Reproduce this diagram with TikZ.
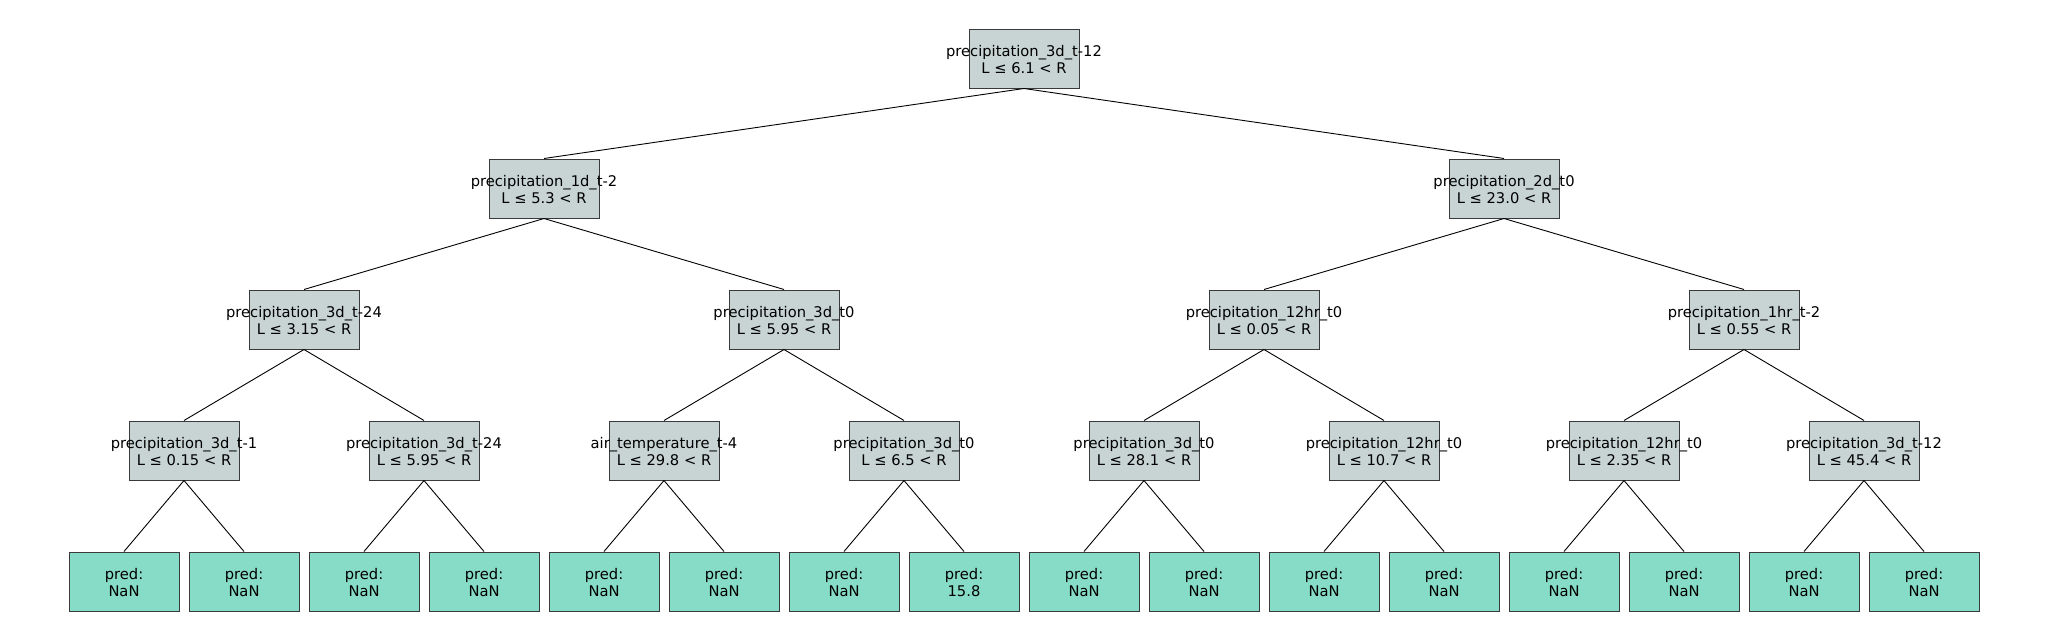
\documentclass[tikz,border=0pt]{standalone}
\usepackage{fontspec}
\setmainfont{DejaVu Sans}
\definecolor{splitfill}{HTML}{C8D4D4}
\definecolor{leaffill}{HTML}{86DCC6}
\definecolor{boxline}{HTML}{3A3A3A}
\begin{document}
\begin{tikzpicture}[x=1pt,y=1pt,
  base/.style={draw=boxline,line width=1pt,minimum width=110pt,minimum height=59pt,inner sep=0pt,
    label={[inner sep=0pt,yshift=-1pt,align=center,font=\fontsize{14.7pt}{16.7pt}\selectfont]center:#1}},
  split/.style={base={#1},fill=splitfill},
  leaf/.style={base={#1},fill=leaffill},
  edge/.style={draw=black,line width=0.9pt}]
\useasboundingbox (0,0) rectangle (2048,-640);
% root
\node[split={precipitation\_3d\_t-12\\L ≤ 6.1 < R}] (r) at (1024,-58.5) {};
% level 1
\node[split={precipitation\_1d\_t-2\\L ≤ 5.3 < R}] (a) at (544,-188.5) {};
\node[split={precipitation\_2d\_t0\\L ≤ 23.0 < R}] (b) at (1504,-188.5) {};
% level 2
\node[split={precipitation\_3d\_t-24\\L ≤ 3.15 < R}] (aa) at (304,-319.5) {};
\node[split={precipitation\_3d\_t0\\L ≤ 5.95 < R}] (ab) at (784,-319.5) {};
\node[split={precipitation\_12hr\_t0\\L ≤ 0.05 < R}] (ba) at (1264,-319.5) {};
\node[split={precipitation\_1hr\_t-2\\L ≤ 0.55 < R}] (bb) at (1744,-319.5) {};
% level 3
\node[split={precipitation\_3d\_t-1\\L ≤ 0.15 < R}] (c1) at (184,-450.5) {};
\node[split={precipitation\_3d\_t-24\\L ≤ 5.95 < R}] (c2) at (424,-450.5) {};
\node[split={air\_temperature\_t-4\\L ≤ 29.8 < R}] (c3) at (664,-450.5) {};
\node[split={precipitation\_3d\_t0\\L ≤ 6.5 < R}] (c4) at (904,-450.5) {};
\node[split={precipitation\_3d\_t0\\L ≤ 28.1 < R}] (c5) at (1144,-450.5) {};
\node[split={precipitation\_12hr\_t0\\L ≤ 10.7 < R}] (c6) at (1384,-450.5) {};
\node[split={precipitation\_12hr\_t0\\L ≤ 2.35 < R}] (c7) at (1624,-450.5) {};
\node[split={precipitation\_3d\_t-12\\L ≤ 45.4 < R}] (c8) at (1864,-450.5) {};
% leaves
\foreach \i/\v in {1/NaN,2/NaN,3/NaN,4/NaN,5/NaN,6/NaN,7/NaN,8/15.8,9/NaN,10/NaN,11/NaN,12/NaN,13/NaN,14/NaN,15/NaN,16/NaN}{
  \node[leaf={pred:\\\v}] (l\i) at ({124+120*(\i-1)},-581.5) {};
}
% edges
\draw[edge] (r.south) -- (a.north);
\draw[edge] (r.south) -- (b.north);
\draw[edge] (a.south) -- (aa.north);
\draw[edge] (a.south) -- (ab.north);
\draw[edge] (b.south) -- (ba.north);
\draw[edge] (b.south) -- (bb.north);
\draw[edge] (aa.south) -- (c1.north);
\draw[edge] (aa.south) -- (c2.north);
\draw[edge] (ab.south) -- (c3.north);
\draw[edge] (ab.south) -- (c4.north);
\draw[edge] (ba.south) -- (c5.north);
\draw[edge] (ba.south) -- (c6.north);
\draw[edge] (bb.south) -- (c7.north);
\draw[edge] (bb.south) -- (c8.north);
\foreach \p/\x/\y in {1/1/2,2/3/4,3/5/6,4/7/8,5/9/10,6/11/12,7/13/14,8/15/16}{
  \draw[edge] (c\p.south) -- (l\x.north);
  \draw[edge] (c\p.south) -- (l\y.north);
}
\end{tikzpicture}
\end{document}
